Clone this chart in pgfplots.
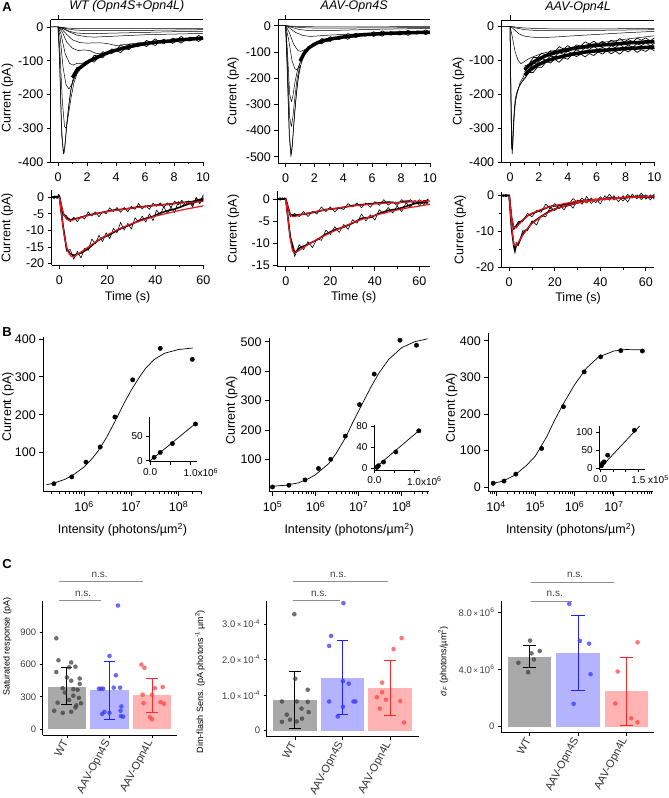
\documentclass[border=0pt]{standalone}
\usepackage{pgfplots}
\pgfplotsset{compat=1.18}
\usepackage{fontspec}
\setmainfont{Liberation Sans}
\definecolor{wtbar}{HTML}{A9A9A9}
\definecolor{wtpt}{HTML}{404040}
\definecolor{sbar}{HTML}{B3B3FF}
\definecolor{spt}{HTML}{3838FF}
\definecolor{serr}{HTML}{1F1FFF}
\definecolor{lbar}{HTML}{FFB3B3}
\definecolor{lpt}{HTML}{FF4545}
\definecolor{lerr}{HTML}{FF2828}
\definecolor{sig}{HTML}{8C8C8C}
\definecolor{fitred}{HTML}{E8141C}
\newcommand{\fs}[1]{\fontsize{#1}{#1}\selectfont}
\pgfplotsset{
  igor/.style={scale only axis, anchor=south west, clip=false,
    axis x line*=bottom, axis y line*=left,
    axis line style={line width=0.9pt},
    tick align=outside, tick style={line width=0.8pt, black},
    major tick length=4pt, minor tick length=2.5pt,
    ticklabel style={font=\fs{12.5}},
    label style={font=\fs{12.5}},
    /pgf/number format/assume math mode=true},
  igorlin/.style={igor, x tick label style={yshift=-3pt}},
  ggc/.style={scale only axis, anchor=south west, clip=false,
    axis x line*=bottom, axis y line*=left,
    axis line style={line width=0.9pt},
    tick align=outside, tick style={line width=0.6pt, black},
    major tick length=3pt,
    ticklabel style={font=\fs{9.5}, text=black!75},
    xtick={0,1,2}, xticklabels={WT,AAV-Opn4S,AAV-Opn4L},
    x tick label style={rotate=62, anchor=east, font=\fs{11}, text=black!80},
    label style={font=\fs{9}},
    /pgf/number format/assume math mode=true},
  trace/.style={black, line width=0.5pt, line join=round},
  ntrace/.style={black, line width=0.6pt, line join=round},
  mtrace/.style={black, line width=1.6pt, line join=round},
  band/.style={black, line width=3.5pt, line join=round},
  fit/.style={fitred, line width=1.2pt},
  stim/.style={black, line width=0.8pt},
  bdot/.style={only marks, mark=*, mark size=2.2pt, black},
  ins/.style={scale only axis, anchor=south west, clip=false,
    axis x line*=bottom, axis y line*=left,
    axis line style={line width=0.8pt},
    tick align=outside, tick style={line width=0.7pt, black},
    major tick length=3pt, ticklabel style={font=\fs{10}},
    /pgf/number format/assume math mode=true},
  ylab/.style={ylabel style={at={(axis description cs:#1,0.5)}, anchor=center}},
  ylabb/.style 2 args={ylabel style={at={(axis description cs:#1,#2)}, anchor=center}},
  xlab/.style={xlabel style={at={(axis description cs:0.5,#1)}, anchor=center}},
}
\begin{document}
\begin{tikzpicture}
\useasboundingbox (0,0) rectangle (669pt,798pt);
% ================= A1 =================
\begin{axis}[igorlin, at={(50.75pt,636pt)}, width=152.25pt, height=142.1pt,
  xmin=-0.5, xmax=10, ymin=-400, ymax=21,
  xtick={0,2,...,10}, minor xtick={1,3,5,7,9}, ytick={-400,-300,...,0},
  ylabel={Current (pA)}, ylabb={-0.284}{0.45},
  title={WT (Opn4S+Opn4L)}, title style={font=\fs{12.5}\itshape, yshift=-2pt}]
\addplot[stim] coordinates {(-0.5,21)(10,21)};
\addplot[stim] coordinates {(0,21)(0,36)};
\addplot[trace] coordinates {(-0.5,0)(-0.2,1)(0,0)(0.3,-1)(0.6,-3)(1,-4)(2,-5)(3,-5)(4,-5)(6,-5)(8,-4)(10,-4)};
\addplot[trace] coordinates {(-0.5,0)(0,0)(0.3,-2)(0.7,-6)(1.2,-9)(2,-11)(3,-11)(4,-11)(6,-10)(8,-9)(10,-8)};
\addplot[trace] coordinates {(0,0)(0.4,-5)(0.8,-13)(1.3,-18)(2,-20)(3,-19)(4,-18)(6,-16)(8,-14)(10,-13)};
\addplot[trace] coordinates {(0,0)(0.4,-6)(0.8,-15)(1.3,-24)(2,-29)(2.5,-30)(3,-29)(4,-27)(5,-25)(6,-23)(8,-21)(10,-19)};
\addplot[trace] coordinates {(0,0)(0.3,-8)(0.6,-22)(1,-38)(1.5,-46)(2,-48)(2.5,-47)(3,-47)(3.5,-50)(4,-55)(5,-50)(6,-45)(8,-38)(10,-32)};
\addplot[trace] coordinates {(0,0)(0.3,-15)(0.6,-45)(1,-63)(1.4,-70)(1.8,-68)(2.2,-70)(2.6,-78)(3,-80)(4,-67)(6,-48)(8,-40)(10,-33)};
\addplot[trace] coordinates {(0,0)(0.2,-20)(0.5,-80)(0.8,-108)(1.05,-113)(1.3,-108)(1.6,-108)(2,-104)};
\addplot[trace] coordinates {(0,0)(0.15,-30)(0.35,-120)(0.55,-170)(0.75,-184)(0.95,-170)(1.2,-145)(1.5,-128)};
\addplot[trace] coordinates {(0,0)(0.12,-60)(0.3,-220)(0.45,-295)(0.55,-300)(0.7,-265)(0.9,-210)(1.1,-165)(1.3,-140)};
\addplot[trace] coordinates {(0,0)(0.1,-80)(0.25,-300)(0.38,-376)(0.45,-370)(0.55,-320)(0.7,-250)(0.85,-195)(1.0,-160)(1.2,-140)};
\addplot[trace] coordinates {(0,0)(0.1,-90)(0.25,-320)(0.36,-370)(0.45,-360)(0.6,-290)(0.75,-230)(0.9,-185)(1.05,-155)};
\addplot[band] coordinates {(1.0,-150)(1.3,-128)(1.6,-118)(1.9,-108)(2.2,-100)(2.5,-94)(2.8,-88)(3.1,-82)(3.4,-77)(3.7,-72)(4.0,-69)(4.3,-65)(4.6,-62)(4.9,-59)(5.2,-56)(5.5,-53)(5.8,-51)(6.1,-49)(6.4,-47)(6.7,-45)(7.0,-44)(7.3,-43)(7.6,-42)(7.9,-41)(8.2,-39)(8.5,-38)(8.8,-37)(9.1,-36)(9.4,-35)(9.7,-34)(10,-33)};
\addplot[trace, line width=0.7pt] coordinates {(1.0,-151)(1.3,-136)(1.6,-116)(1.9,-114)(2.2,-99)(2.5,-104)(2.8,-90)(3.1,-91)(3.4,-74)(3.7,-79)(4.0,-69)(4.3,-76)(4.6,-65)(4.9,-67)(5.2,-54)(5.5,-59)(5.8,-50)(6.1,-58)(6.4,-48)(6.7,-55)(7.0,-44)(7.3,-50)(7.6,-39)(7.9,-49)(8.2,-41)(8.5,-48)(8.8,-36)(9.1,-42)(9.4,-35)(9.7,-43)(10,-34)};
\addplot[trace, line width=0.7pt] coordinates {(1.0,-149)(1.3,-120)(1.6,-120)(1.9,-102)(2.2,-101)(2.5,-84)(2.8,-86)(3.1,-73)(3.4,-80)(3.7,-65)(4.0,-69)(4.3,-54)(4.6,-59)(4.9,-51)(5.2,-58)(5.5,-47)(5.8,-52)(6.1,-40)(6.4,-46)(6.7,-35)(7.0,-44)(7.3,-36)(7.6,-45)(7.9,-33)(8.2,-37)(8.5,-28)(8.8,-38)(9.1,-30)(9.4,-35)(9.7,-25)(10,-32)};
\end{axis}
% ================= A2 =================
\begin{axis}[igorlin, at={(278.4pt,634.7pt)}, width=151.5pt, height=143.6pt,
  xmin=-0.5, xmax=10, ymin=-525, ymax=23,
  xtick={0,2,...,10}, minor xtick={1,3,5,7,9}, ytick={-500,-400,...,0},
  ylabel={Current (pA)}, ylabb={-0.298}{0.5},
  title={AAV-Opn4S}, title style={font=\fs{12.5}\itshape, yshift=-2pt}]
\addplot[stim] coordinates {(-0.5,23)(10,23)};
\addplot[stim] coordinates {(0,23)(0,42)};
\addplot[trace] coordinates {(-0.5,0)(0,0)(0.5,-2)(1,-3)(2,-4)(4,-4)(7,-4)(10,-3)};
\addplot[trace] coordinates {(-0.5,0)(0,0)(0.4,-3)(1,-7)(2,-9)(4,-9)(7,-8)(10,-7)};
\addplot[trace] coordinates {(0,0)(0.4,-6)(0.9,-14)(1.5,-18)(2.5,-19)(4,-17)(6,-14)(8,-12)(10,-10)};
\addplot[trace] coordinates {(0,0)(0.3,-10)(0.7,-26)(1.2,-37)(1.7,-41)(2.2,-39)(3,-36)(4,-33)(5,-31)(6,-28)(8,-24)(10,-21)};
\addplot[trace] coordinates {(0,0)(0.25,-25)(0.55,-70)(0.85,-95)(1.05,-98)(1.3,-92)(1.6,-84)(2,-74)};
\addplot[trace] coordinates {(0,0)(0.2,-50)(0.45,-135)(0.65,-165)(0.8,-168)(0.95,-150)(1.1,-128)};
\addplot[trace] coordinates {(0,0)(0.12,-90)(0.28,-260)(0.4,-290)(0.5,-270)(0.65,-215)(0.8,-175)(1.0,-140)};
\addplot[trace] coordinates {(0,0)(0.12,-130)(0.28,-350)(0.4,-385)(0.5,-350)(0.65,-270)(0.8,-200)(1.0,-150)};
\addplot[trace] coordinates {(0,0)(0.1,-150)(0.25,-420)(0.37,-500)(0.45,-470)(0.55,-390)(0.7,-290)(0.85,-210)(1.0,-160)(1.2,-125)};
\addplot[trace] coordinates {(0,0)(0.1,-140)(0.26,-410)(0.38,-490)(0.47,-450)(0.6,-350)(0.75,-255)(0.9,-190)(1.05,-150)};
\addplot[band] coordinates {(1.0,-135)(1.3,-104)(1.6,-85)(1.9,-74)(2.2,-65)(2.5,-59)(2.8,-55)(3.1,-51)(3.4,-48)(3.7,-46)(4.0,-43)(4.3,-41)(4.6,-39)(4.9,-37)(5.2,-35)(5.5,-34)(5.8,-33)(6.1,-32)(6.4,-31)(6.7,-30)(7.0,-29)(7.3,-29)(7.6,-28)(7.9,-28)(8.2,-27)(8.5,-27)(8.8,-26)(9.1,-26)(9.4,-25)(9.7,-25)(10,-25)};
\addplot[trace, line width=0.7pt] coordinates {(1.0,-136)(1.3,-112)(1.6,-83)(1.9,-80)(2.2,-64)(2.5,-69)(2.8,-57)(3.1,-60)(3.4,-45)(3.7,-53)(4.0,-43)(4.3,-52)(4.6,-42)(4.9,-45)(5.2,-33)(5.5,-40)(5.8,-32)(6.1,-41)(6.4,-32)(6.7,-40)(7.0,-29)(7.3,-36)(7.6,-25)(7.9,-36)(8.2,-29)(8.5,-37)(8.8,-25)(9.1,-32)(9.4,-25)(9.7,-34)(10,-26)};
\addplot[trace, line width=0.7pt] coordinates {(1.0,-134)(1.3,-96)(1.6,-87)(1.9,-68)(2.2,-66)(2.5,-49)(2.8,-53)(3.1,-42)(3.4,-51)(3.7,-39)(4.0,-43)(4.3,-30)(4.6,-36)(4.9,-29)(5.2,-37)(5.5,-28)(5.8,-34)(6.1,-23)(6.4,-30)(6.7,-20)(7.0,-29)(7.3,-22)(7.6,-31)(7.9,-20)(8.2,-25)(8.5,-17)(8.8,-27)(9.1,-20)(9.4,-25)(9.7,-16)(10,-24)};
\end{axis}
% ================= A3 =================
\begin{axis}[igorlin, at={(501.7pt,635.7pt)}, width=152.7pt, height=142pt,
  xmin=-0.58, xmax=10, ymin=-400, ymax=17.6,
  xtick={0,2,...,10}, minor xtick={1,3,5,7,9}, ytick={-400,-300,...,0},
  ylabel={Current (pA)}, ylabb={-0.284}{0.5},
  title={AAV-Opn4L}, title style={font=\fs{12.5}\itshape, yshift=-2pt}]
\addplot[stim] coordinates {(-0.58,17.6)(10,17.6)};
\addplot[stim] coordinates {(0,17.6)(0,33)};
\addplot[trace] coordinates {(-0.58,0)(0,0)(0.5,-3)(1,-5)(2,-7)(4,-8)(6,-8)(8,-7)(10,-6)};
\addplot[trace] coordinates {(-0.58,0)(0,0)(0.4,-5)(1,-10)(2,-13)(4,-13)(6,-12)(8,-11)(10,-10)};
\addplot[trace] coordinates {(0,0)(0.3,-10)(0.6,-22)(1,-29)(1.5,-32)(2,-33)(3,-32)(4,-29)(6,-24)(8,-19)(10,-15)};
\addplot[trace] coordinates {(0,0)(0.15,-30)(0.35,-75)(0.55,-100)(0.75,-110)(0.95,-105)(1.3,-95)(1.7,-88)(2.2,-80)(3,-72)(4,-64)(5,-57)(6,-50)(7,-44)(8,-38)(9,-33)(10,-28)};
\addplot[trace] coordinates {(0,0)(0.04,-150)(0.1,-330)(0.15,-375)(0.2,-340)(0.28,-270)(0.38,-220)(0.5,-195)(0.7,-165)(0.9,-150)(1.0,-140)};
\addplot[trace] coordinates {(0,0)(0.05,-180)(0.1,-350)(0.14,-365)(0.2,-310)(0.3,-240)(0.45,-200)(0.6,-180)(0.8,-165)(1.0,-150)};
\addplot[trace] coordinates {(0,0)(0.05,-160)(0.12,-360)(0.18,-350)(0.25,-280)(0.35,-215)(0.5,-190)(0.7,-170)(1.0,-155)};
\addplot[band] coordinates {(1.0,-128)(1.3,-116)(1.6,-106)(1.9,-98)(2.2,-92)(2.5,-86)(2.8,-82)(3.1,-78)(3.4,-75)(3.7,-72)(4.0,-69)(4.3,-66)(4.6,-64)(4.9,-62)(5.2,-60)(5.5,-58)(5.8,-57)(6.1,-56)(6.4,-55)(6.7,-54)(7.0,-53)(7.3,-52)(7.6,-51)(7.9,-50)(8.2,-49)(8.5,-48)(8.8,-48)(9.1,-47)(9.4,-46)(9.7,-46)(10,-45)};
\addplot[band] coordinates {(1.0,-144)(1.3,-132)(1.6,-122)(1.9,-114)(2.2,-108)(2.5,-102)(2.8,-98)(3.1,-94)(3.4,-91)(3.7,-88)(4.0,-85)(4.3,-82)(4.6,-80)(4.9,-78)(5.2,-76)(5.5,-74)(5.8,-73)(6.1,-72)(6.4,-71)(6.7,-70)(7.0,-69)(7.3,-68)(7.6,-67)(7.9,-66)(8.2,-65)(8.5,-64)(8.8,-64)(9.1,-63)(9.4,-62)(9.7,-62)(10,-61)};
\addplot[trace, line width=0.7pt] coordinates {(1.0,-117)(1.3,-112)(1.6,-92)(1.9,-92)(2.2,-79)(2.5,-84)(2.8,-72)(3.1,-75)(3.4,-60)(3.7,-67)(4.0,-57)(4.3,-65)(4.6,-55)(4.9,-58)(5.2,-46)(5.5,-52)(5.8,-44)(6.1,-53)(6.4,-44)(6.7,-52)(7.0,-41)(7.3,-47)(7.6,-36)(7.9,-46)(8.2,-39)(8.5,-46)(8.8,-35)(9.1,-41)(9.4,-34)(9.7,-43)(10,-34)};
\addplot[trace, line width=0.7pt] coordinates {(1.0,-155)(1.3,-136)(1.6,-136)(1.9,-120)(2.2,-121)(2.5,-104)(2.8,-108)(3.1,-97)(3.4,-106)(3.7,-93)(4.0,-97)(4.3,-83)(4.6,-89)(4.9,-82)(5.2,-90)(5.5,-80)(5.8,-86)(6.1,-75)(6.4,-82)(6.7,-72)(7.0,-81)(7.3,-73)(7.6,-82)(7.9,-70)(8.2,-75)(8.5,-66)(8.8,-77)(9.1,-69)(9.4,-74)(9.7,-65)(10,-72)};
\addplot[trace, line width=0.7pt] coordinates {(1.0,-133)(1.3,-129)(1.6,-110)(1.9,-108)(2.2,-95)(2.5,-100)(2.8,-88)(3.1,-90)(3.4,-76)(3.7,-83)(4.0,-73)(4.3,-80)(4.6,-69)(4.9,-75)(5.2,-63)(5.5,-68)(5.8,-59)(6.1,-68)(6.4,-62)(6.7,-69)(7.0,-57)(7.3,-63)(7.6,-52)(7.9,-63)(8.2,-55)(8.5,-62)(8.8,-51)(9.1,-57)(9.4,-48)(9.7,-58)(10,-50)};
\end{axis}
% ================= A4 =================
\begin{axis}[igorlin, at={(51.7pt,533pt)}, width=151.7pt, height=74.5pt,
  xmin=-3.2, xmax=60, ymin=-20.4, ymax=2,
  xtick={0,20,40,60}, minor xtick={10,30,50}, ytick={-20,-15,...,0},
  ylabel={Current (pA)}, ylab={-0.293}, xlabel={Time (s)}, xlab={-0.434}]
\addplot[mtrace] coordinates {(-3,0)(0,0.2)(1.5,-5)(3,-6.2)(4.5,-6.8)(6,-6.6)(9,-6.1)(12,-5.4)(15,-5.0)(18,-4.6)(21,-4.1)(24,-3.8)(27,-3.6)(30,-3.3)(33,-2.9)(36,-2.8)(39,-2.5)(42,-2.3)(45,-2.2)(48,-1.9)(51,-1.6)(54,-1.5)(57,-1.1)(60,-0.4)};
\addplot[mtrace] coordinates {(-3,0)(0,0.2)(1.5,-8.5)(3,-15.5)(4.5,-17)(6,-17.5)(9,-16.8)(12,-15.5)(15,-13.6)(18,-12.2)(21,-11.3)(24,-10)(27,-9)(30,-8.2)(33,-7.1)(36,-6.4)(39,-5.8)(42,-4.8)(45,-4.1)(48,-3.6)(51,-2.8)(54,-2.0)(57,-1.4)(60,-0.8)};
\addplot[ntrace] coordinates {(-3,0.2)(-2.2,-0.5)(-1.5,0.4)(-0.8,-0.3)(-0.3,0.9)(0,0.3)(1.5,-5.0)(3,-5.6)(4.5,-7.4)(6,-6.0)(7.5,-7.4)(9,-5.8)(10.5,-6.6)(12,-4.4)(13.5,-5.7)(15,-4.4)(16.5,-5.9)(18,-4.4)(19.5,-5.0)(21,-3.2)(22.5,-4.4)(24,-3.1)(25.5,-4.6)(27,-3.1)(28.5,-4.4)(30,-2.7)(31.5,-3.7)(33,-1.9)(34.5,-3.6)(36,-2.5)(37.5,-3.7)(39,-1.8)(40.5,-2.8)(42,-1.7)(43.5,-3.1)(45,-1.7)(46.5,-3.1)(48,-1.2)(49.5,-2.3)(51,-0.9)(52.5,-2.3)(54,-1.2)(55.5,-2.4)(57,-0.4)(58.5,-1.6)(60,0.8)};
\addplot[ntrace] coordinates {(-3,0)(-2,0.4)(-1,-0.4)(0,0.6)(1.5,-8.5)(3,-16.3)(4.5,-15.7)(6,-18.7)(7.5,-16.3)(9,-18.3)(10.5,-15.4)(12,-16.0)(13.5,-12.6)(15,-14.0)(16.5,-11.5)(18,-13.4)(19.5,-10.7)(21,-12.5)(22.5,-9.4)(24,-10.7)(25.5,-7.6)(27,-9.9)(28.5,-7.9)(30,-9.6)(31.5,-6.2)(33,-7.5)(34.5,-5.7)(36,-7.5)(37.5,-5.0)(39,-7.1)(40.5,-3.9)(42,-5.3)(43.5,-2.9)(45,-4.9)(46.5,-3.0)(48,-4.7)(49.5,-1.3)(51,-3.0)(52.5,-1.5)(54,-1.1)(55.5,-3.0)(57,0.0)(58.5,-2.0)(60,0.2)};
\addplot[fit] coordinates {(0,0)(1,-3)(2,-5.5)(3,-6.6)(4,-7)(5,-7)(6,-6.8)(8,-6.3)(10,-5.9)(15,-5)(20,-4.3)(25,-3.8)(30,-3.3)(40,-2.5)(50,-1.8)(60,-1.3)};
\addplot[fit] coordinates {(0,0)(1,-6)(2,-11.5)(3,-15)(4,-17)(5,-17.8)(6,-17.9)(8,-17)(10,-16)(15,-13.5)(20,-11.3)(25,-9.5)(30,-8)(40,-5.7)(50,-4)(60,-2.6)};
\end{axis}
% ================= A5 =================
\begin{axis}[igorlin, at={(277.3pt,531.3pt)}, width=152.8pt, height=75.2pt,
  xmin=-3.8, xmax=64.8, ymin=-15.4, ymax=1.7,
  xtick={0,20,40,60}, minor xtick={10,30,50}, ytick={-15,-10,-5,0},
  ylabel={Current (pA)}, ylab={-0.288}, xlabel={Time (s)}, xlab={-0.407}]
\addplot[mtrace] coordinates {(-3.5,0)(0,0)(2,-3.6)(4,-3.7)(6,-3.6)(10,-3.3)(14,-2.9)(18,-2.4)(22,-2.2)(26,-1.9)(30,-1.5)(34,-1.3)(38,-1.1)(42,-0.9)(46,-0.7)(50,-0.9)(54,-0.5)(58,-0.6)(62,-0.6)(64,-0.2)};
\addplot[mtrace] coordinates {(-3.5,0)(0,0)(2,-8.6)(4,-12.3)(6,-11.2)(10,-10.3)(14,-9.3)(18,-8.0)(22,-7)(26,-6.4)(30,-5.5)(34,-4.4)(38,-4.2)(42,-3.3)(46,-2.6)(50,-2.3)(54,-1.7)(58,-1.0)(62,-0.8)(64,-0.8)};
\addplot[ntrace] coordinates {(-3.5,0.2)(-2.5,-0.3)(-1.5,0.3)(-0.5,-0.2)(0,0.2)(2,-4.0)(4,-3.3)(6,-4.0)(8,-2.85)(10,-4.0)(12,-2.8)(14,-3.4)(16,-1.8)(18,-2.85)(20,-1.8)(22,-2.95)(24,-1.9)(26,-2.4)(28,-1.05)(30,-1.8)(32,-0.9)(34,-2.0)(36,-0.9)(38,-1.9)(40,-0.6)(42,-1.45)(44,-0.15)(46,-1.4)(48,-0.65)(50,-1.5)(52,-0.15)(54,-0.9)(56,-0.15)(58,-1.2)(60,-0.15)(62,-1.3)(64,0.05)};
\addplot[ntrace] coordinates {(-3.5,0)(-2.5,0.3)(-1.5,-0.2)(-0.5,0.3)(0,0)(2,-8.6)(4,-13.1)(6,-10.4)(8,-11.5)(10,-9.7)(12,-11.1)(14,-9.05)(16,-9.4)(18,-7.1)(20,-8.1)(22,-6.3)(24,-7.6)(26,-5.8)(28,-6.9)(30,-4.7)(32,-5.5)(34,-3.4)(36,-5.0)(38,-3.6)(40,-4.8)(42,-2.45)(44,-3.4)(46,-1.95)(48,-3.2)(50,-1.6)(52,-2.9)(54,-0.9)(56,-1.9)(58,-0.35)(60,-1.5)(62,-0.25)(64,-1.35)};
\addplot[fit] coordinates {(0,0)(1,-2)(2,-3.5)(3,-4)(4,-4)(6,-3.7)(10,-3.2)(15,-2.7)(20,-2.3)(30,-1.6)(40,-1.1)(50,-0.8)(60,-0.55)(64.8,-0.45)};
\addplot[fit] coordinates {(0,0)(1,-4.5)(2,-9)(3,-11.8)(4,-12.2)(5,-12)(8,-11)(12,-9.8)(16,-8.7)(20,-7.7)(25,-6.5)(30,-5.4)(35,-4.5)(40,-3.7)(45,-3.1)(50,-2.5)(55,-2.0)(60,-1.6)(64.8,-1.2)};
\end{axis}
% ================= A6 =================
\begin{axis}[igorlin, at={(501.7pt,530.7pt)}, width=152.6pt, height=75.2pt,
  xmin=-3.3, xmax=63.7, ymin=-20, ymax=1.0,
  xtick={0,20,40,60}, minor xtick={10,30,50}, ytick={-20,-10,0}, minor ytick={-15,-5},
  ylabel={Current (pA)}, ylab={-0.273}, xlabel={Time (s)}, xlab={-0.41}]
\addplot[mtrace] coordinates {(-3.3,0)(0,0.1)(1,-6)(2,-9.2)(4,-7.8)(6,-6.8)(8,-5.6)(10,-5.0)(14,-4.0)(18,-3.0)(22,-2.7)(26,-2.2)(30,-1.6)(34,-1.3)(38,-1.2)(42,-0.8)(46,-0.6)(50,-0.6)(54,-0.3)(58,-0.4)(62,-0.3)(63.7,0)};
\addplot[mtrace] coordinates {(-3.3,0)(0,0)(1,-9)(2,-14)(2.5,-15.5)(3,-14)(4,-13.5)(6,-10.5)(8,-9.3)(10,-7.6)(14,-5.8)(18,-4.2)(22,-3.3)(26,-2.7)(30,-2.0)(34,-1.3)(38,-1.2)(42,-0.9)(46,-0.6)(50,-0.6)(54,-0.4)(58,-0.1)(62,-0.3)(63.7,-0.5)};
\addplot[ntrace] coordinates {(-3.3,0.3)(-2.5,-0.2)(-1.5,0.4)(-0.5,-0.1)(0,0.3)(1,-6)(2,-9.5)(4,-7.2)(6,-7.2)(8,-4.9)(10,-5.9)(12,-4.05)(14,-4.65)(16,-2.35)(18,-3.6)(20,-2.2)(22,-3.6)(24,-2.05)(26,-2.6)(28,-0.8)(30,-1.9)(32,-0.65)(34,-2.1)(36,-0.65)(38,-2.0)(40,-0.3)(42,-1.3)(44,0.4)(46,-1.25)(48,-0.25)(50,-1.5)(52,0.35)(54,-0.7)(56,0.25)(58,-1.1)(60,0.25)(62,-1.2)(63.7,0.5)};
\addplot[ntrace] coordinates {(-3.3,0)(-2.5,0.3)(-1.5,-0.3)(-0.5,0.2)(0,0)(1,-9)(2,-13.1)(2.5,-16.2)(3,-13)(4,-14)(6,-9.6)(8,-9.8)(10,-7.0)(12,-8.2)(14,-5.6)(16,-5.9)(18,-3.2)(20,-4.2)(22,-2.4)(24,-4.0)(26,-2.0)(28,-3.5)(30,-1.2)(32,-2.4)(34,-0.2)(36,-2.2)(38,-0.85)(40,-2.3)(42,0.0)(44,-1.3)(46,0.0)(48,-1.7)(50,0.0)(52,-1.8)(54,0.45)(56,-0.9)(58,0.75)(60,-1.0)(62,0.25)(63.7,-1.0)};
\addplot[fit] coordinates {(0,0)(1,-6)(2,-8.8)(3,-9)(4,-8.2)(6,-6.8)(8,-5.7)(10,-4.9)(15,-3.6)(20,-2.8)(25,-2.1)(30,-1.6)(40,-0.9)(50,-0.5)(60,-0.25)(63.7,-0.2)};
\addplot[fit] coordinates {(0,0)(1,-8)(2,-13.5)(3,-14)(4,-13)(6,-11)(8,-9.2)(10,-7.8)(15,-5.4)(20,-3.8)(25,-2.8)(30,-2)(40,-1.1)(50,-0.6)(60,-0.3)(63.7,-0.2)};
\end{axis}
% ================= B1 =================
\begin{axis}[igor, at={(43.3pt,306.3pt)}, width=158.4pt, height=154.3pt,
  xmode=log, xmin=1.374e5, xmax=3.09e8, ymin=-3, ymax=404,
  xtick={1e6,1e7,1e8}, xticklabels={10\textsuperscript{6},10\textsuperscript{7},10\textsuperscript{8}},
  minor xtick={2e5,3e5,4e5,5e5,6e5,7e5,8e5,9e5,2e6,3e6,4e6,5e6,6e6,7e6,8e6,9e6,2e7,3e7,4e7,5e7,6e7,7e7,8e7,9e7,2e8,3e8},
  x tick label style={yshift=-2pt},
  ytick={100,200,300,400},
  ylabel={Current (pA)}, ylabb={-0.223}{0.55},
  xlabel={Intensity (photons/µm\textsuperscript{2})}, xlab={-0.248}]
\addplot[black, line width=0.7pt] coordinates {(1.6e5,15)(2.5e5,21)(4e5,30)(6e5,42)(1e6,62)(1.5e6,85)(2e6,105)(3e6,140)(4e6,170)(5e6,193)(7e6,230)(1e7,265)(1.5e7,300)(2e7,322)(3e7,345)(5e7,362)(1e8,372)(2e8,376)};
\addplot[bdot] coordinates {(2.3e5,18)(5.5e5,36)(1.1e6,75)(2.2e6,115)(4.5e6,194)(1.07e7,292)(4.1e7,375)(1.95e8,346)};
\end{axis}
\begin{axis}[ins, at={(149.3pt,336.3pt)}, width=47.4pt, height=45pt,
  xmin=-0.02, xmax=1.15, ymin=-2, ymax=90,
  xtick={0,1}, xticklabels={0.0,{1.0\rlap{x10\textsuperscript{6}}}}, minor xtick={0.5},
  ytick={0,50}]
\addplot[black, line width=0.7pt] coordinates {(0,0)(1.15,78)};
\addplot[bdot] coordinates {(0.1,7)(0.25,17)(0.55,35)(1.12,75)};
\end{axis}
% ================= B2 =================
\begin{axis}[igor, at={(269pt,306.3pt)}, width=160.3pt, height=153.2pt,
  xmode=log, xmin=8.3e4, xmax=4.37e8, ymin=-10, ymax=511,
  xtick={1e5,1e6,1e7,1e8}, xticklabels={10\textsuperscript{5},10\textsuperscript{6},10\textsuperscript{7},10\textsuperscript{8}},
  minor xtick={2e5,3e5,4e5,5e5,6e5,7e5,8e5,9e5,2e6,3e6,4e6,5e6,6e6,7e6,8e6,9e6,2e7,3e7,4e7,5e7,6e7,7e7,8e7,9e7,2e8,3e8,4e8},
  x tick label style={yshift=-2pt},
  ytick={100,200,300,400,500},
  ylabel={Current (pA)}, ylabb={-0.233}{0.53},
  xlabel={Intensity (photons/µm\textsuperscript{2})}, xlab={-0.25}]
\addplot[black, line width=0.7pt] coordinates {(9e4,8)(2e5,12)(4e5,20)(7e5,35)(1e6,48)(2e6,85)(3e6,120)(5e6,175)(7e6,220)(1e7,265)(1.5e7,315)(2e7,350)(3e7,395)(5e7,440)(1e8,480)(2e8,500)(4e8,510)};
\addplot[bdot] coordinates {(1e5,6)(2.4e5,12)(5.7e5,30)(1.17e6,69)(2.25e6,100)(4.9e6,179)(1.05e7,286)(2.3e7,390)(9.1e7,505)(2.2e8,488)};
\end{axis}
\begin{axis}[ins, at={(374pt,328pt)}, width=46pt, height=45pt,
  xmin=-0.01, xmax=1.15, ymin=-3, ymax=82,
  xtick={0,1}, xticklabels={0.0,{1.0\rlap{x10\textsuperscript{6}}}}, minor xtick={0.5},
  ytick={0,40,80}]
\addplot[black, line width=0.7pt] coordinates {(0,0)(1.15,73)};
\addplot[bdot] coordinates {(0.06,2)(0.1,5)(0.23,12)(0.54,31)(1.12,71)};
\end{axis}
% ================= B3 =================
\begin{axis}[igor, at={(488.3pt,306.3pt)}, width=164.7pt, height=158.3pt,
  xmode=log, xmin=6.37e3, xmax=9.9e7, ymin=-12, ymax=420,
  xtick={1e4,1e5,1e6,1e7,1e8}, xticklabels={10\textsuperscript{4},10\textsuperscript{5},10\textsuperscript{6},10\textsuperscript{7},10\textsuperscript{8}},
  minor xtick={7e3,8e3,9e3,2e4,3e4,4e4,5e4,6e4,7e4,8e4,9e4,2e5,3e5,4e5,5e5,6e5,7e5,8e5,9e5,2e6,3e6,4e6,5e6,6e6,7e6,8e6,9e6,2e7,3e7,4e7,5e7,6e7,7e7,8e7,9e7},
  x tick label style={yshift=-2pt},
  ytick={0,100,200,300,400},
  ylabel={Current (pA)}, ylabb={-0.222}{0.53},
  xlabel={Intensity (photons/µm\textsuperscript{2})}, xlab={-0.242}]
\addplot[black, line width=0.7pt] coordinates {(8e3,10)(1.5e4,17)(3e4,33)(6e4,60)(1e5,85)(2e5,140)(3e5,180)(5e5,225)(1e6,280)(2e6,325)(4e6,355)(1e7,372)(2e7,376)(5e7,375)};
\addplot[bdot] coordinates {(8.5e3,11)(1.6e4,17)(3.2e4,36)(1.45e5,106)(5.2e5,220)(1.75e6,315)(4.6e6,356)(1.5e7,373)(5.3e7,372)};
\end{axis}
\begin{axis}[ins, at={(599.3pt,329pt)}, width=45.7pt, height=43pt,
  xmin=-0.04, xmax=1.76, ymin=-3, ymax=118,
  xtick={0,1.5}, xticklabels={0.0,{1.5\rlap{ x10\textsuperscript{5}}}}, minor xtick={0.5,1.0},
  ytick={0,50,100}]
\addplot[black, line width=0.7pt] coordinates {(0,0)(1.55,118)};
\addplot[bdot] coordinates {(0.04,6)(0.09,13)(0.15,17)(0.29,36)(1.34,106)};
\end{axis}
% ================= C1 =================
\begin{axis}[ggc, at={(42.7pt,63pt)}, width=134pt, height=134pt,
  xmin=-0.57, xmax=2.58, ymin=-56, ymax=1192,
  ytick={0,300,600,900},
  ylabel={Saturated response (pA)}, ylabb={-0.264}{0.66}]
\addplot[ybar, bar width=0.9, bar shift=0pt, fill=wtbar, draw=none] coordinates {(0,395)};
\addplot[ybar, bar width=0.9, bar shift=0pt, fill=sbar, draw=none] coordinates {(1,360)};
\addplot[ybar, bar width=0.9, bar shift=0pt, fill=lbar, draw=none] coordinates {(2,315)};
\addplot[only marks, mark=*, mark size=2.3pt, wtpt, mark options={draw opacity=0, fill opacity=0.75}] coordinates {(-0.25,845)(-0.2,640)(0.1,620)(0.2,580)(0.05,575)(-0.25,530)(0,480)(0.3,470)(0.1,450)(0.3,420)(-0.1,380)(0.15,370)(0.25,365)(-0.05,340)(0.15,310)(0.28,290)(0.05,270)(-0.22,245)(0.33,240)(0.2,200)(-0.3,170)(0.1,160)(-0.1,150)(0.22,220)};
\addplot[only marks, mark=*, mark size=2.3pt, spt, mark options={draw opacity=0, fill opacity=0.75}] coordinates {(1.2,1150)(1.0,680)(1.15,500)(0.75,375)(0.8,375)(0.85,375)(1.1,385)(1.25,385)(1.28,210)(1.26,170)(0.88,160)(0.83,140)(1.0,150)(1.27,120)(1.32,115)};
\addplot[only marks, mark=*, mark size=2.3pt, lpt, mark options={draw opacity=0, fill opacity=0.75}] coordinates {(1.75,600)(1.82,570)(2.25,390)(2.07,380)(1.78,320)(2.0,320)(1.8,240)(2.2,250)(2.28,235)(1.95,110)(2.0,90)};
\addplot[black, line width=0.9pt] coordinates {(0,225)(0,570)};
\addplot[black, line width=0.9pt] coordinates {(-0.13,570)(0.13,570)};
\addplot[black, line width=0.9pt] coordinates {(-0.13,225)(0.13,225)};
\addplot[serr, line width=0.9pt] coordinates {(1,85)(1,630)};
\addplot[serr, line width=0.9pt] coordinates {(0.87,630)(1.13,630)};
\addplot[serr, line width=0.9pt] coordinates {(0.87,85)(1.13,85)};
\addplot[lerr, line width=0.9pt] coordinates {(2,150)(2,475)};
\addplot[lerr, line width=0.9pt] coordinates {(1.87,475)(2.13,475)};
\addplot[lerr, line width=0.9pt] coordinates {(1.87,150)(2.13,150)};
\addplot[sig, line width=0.9pt] coordinates {(-0.19,1371)(1.79,1371)};
\addplot[sig, line width=0.9pt] coordinates {(-0.19,1195)(0.8,1195)};
\node[font=\fs{10}, text=black!75] at (axis cs:0.77,1434) {n.s.};
\node[font=\fs{10}, text=black!75] at (axis cs:0.38,1257) {n.s.};
\end{axis}
% ================= C2 =================
\begin{axis}[ggc, at={(266.7pt,61.3pt)}, width=152.6pt, height=135.7pt,
  xmin=-0.59, xmax=2.61, ymin=-0.168, ymax=3.64,
  ytick={0,1,2,3}, yticklabels={0,{1.0\,{\fs{8}×}\,10\textsuperscript{-4}},{2.0\,{\fs{8}×}\,10\textsuperscript{-4}},{3.0\,{\fs{8}×}\,10\textsuperscript{-4}}},
  ylabel={Dim-flash Sens. (pA photons\textsuperscript{-1} µm\textsuperscript{2})}, ylabb={-0.437}{0.405}]
\addplot[ybar, bar width=0.92, bar shift=0pt, fill=wtbar, draw=none] coordinates {(0,0.856)};
\addplot[ybar, bar width=0.92, bar shift=0pt, fill=sbar, draw=none] coordinates {(1,1.48)};
\addplot[ybar, bar width=0.92, bar shift=0pt, fill=lbar, draw=none] coordinates {(2,1.2)};
\addplot[only marks, mark=*, mark size=2.3pt, wtpt, mark options={draw opacity=0, fill opacity=0.75}] coordinates {(-0.01,3.27)(0.01,1.46)(0.27,1.15)(-0.27,0.82)(0.04,0.82)(0.27,0.81)(0.29,0.52)(0.14,0.62)(-0.17,0.45)(-0.1,0.31)(0.04,0.26)(0.15,0.34)(-0.27,0.25)};
\addplot[only marks, mark=*, mark size=2.3pt, spt, mark options={draw opacity=0, fill opacity=0.75}] coordinates {(1.02,3.58)(0.76,2.66)(0.72,2.38)(1.01,1.39)(1.13,1.32)(0.72,0.82)(1.01,0.67)(1.27,0.82)(1.23,0.82)(0.9,0.40)};
\addplot[only marks, mark=*, mark size=2.3pt, lpt, mark options={draw opacity=0, fill opacity=0.75}] coordinates {(2.24,2.6)(2.07,2.29)(1.83,1.35)(1.83,1.08)(1.72,0.94)(1.91,0.87)(1.78,0.62)(2.21,0.83)(2.29,0.23)};
\addplot[black, line width=0.9pt] coordinates {(0,0.06)(0,1.67)};
\addplot[black, line width=0.9pt] coordinates {(-0.12,1.67)(0.12,1.67)};
\addplot[black, line width=0.9pt] coordinates {(-0.12,0.06)(0.12,0.06)};
\addplot[serr, line width=0.9pt] coordinates {(1,0.45)(1,2.52)};
\addplot[serr, line width=0.9pt] coordinates {(0.88,2.52)(1.12,2.52)};
\addplot[serr, line width=0.9pt] coordinates {(0.88,0.45)(1.12,0.45)};
\addplot[lerr, line width=0.9pt] coordinates {(2,0.43)(2,1.97)};
\addplot[lerr, line width=0.9pt] coordinates {(1.88,1.97)(2.12,1.97)};
\addplot[lerr, line width=0.9pt] coordinates {(1.88,0.43)(2.12,0.43)};
\addplot[sig, line width=0.9pt] coordinates {(-0.04,4.19)(1.95,4.19)};
\addplot[sig, line width=0.9pt] coordinates {(-0.04,3.65)(0.95,3.65)};
\node[font=\fs{10}, text=black!75] at (axis cs:0.91,4.37) {n.s.};
\node[font=\fs{10}, text=black!75] at (axis cs:0.51,3.84) {n.s.};
\end{axis}
% ================= C3 =================
\begin{axis}[ggc, at={(501pt,65.3pt)}, width=153pt, height=132pt,
  xmin=-0.59, xmax=2.57, ymin=-0.42, ymax=8.81,
  ytick={0,4,8}, yticklabels={0,{4.0\,{\fs{8}×}\,10\textsuperscript{6}},{8.0\,{\fs{8}×}\,10\textsuperscript{6}}},
  ylabel={\textit{σ}\textsubscript{\textit{F}} (photons/µm\textsuperscript{2})}, ylabb={-0.377}{0.54}]
\addplot[ybar, bar width=0.9, bar shift=0pt, fill=wtbar, draw=none] coordinates {(0,4.89)};
\addplot[ybar, bar width=0.9, bar shift=0pt, fill=sbar, draw=none] coordinates {(1,5.13)};
\addplot[ybar, bar width=0.9, bar shift=0pt, fill=lbar, draw=none] coordinates {(2,2.47)};
\addplot[only marks, mark=*, mark size=2.3pt, wtpt, mark options={draw opacity=0, fill opacity=0.75}] coordinates {(0.01,6.02)(0.21,5.29)(0.04,5.13)(0.09,4.7)(-0.23,4.47)(-0.03,3.81)};
\addplot[only marks, mark=*, mark size=2.3pt, spt, mark options={draw opacity=0, fill opacity=0.75}] coordinates {(0.82,8.59)(1.04,6.0)(1.23,5.81)(1.26,3.67)(0.91,1.6)};
\addplot[only marks, mark=*, mark size=2.3pt, lpt, mark options={draw opacity=0, fill opacity=0.75}] coordinates {(2.23,5.9)(1.82,3.86)(1.77,1.62)(2.1,0.59)(2.23,0.31)};
\addplot[black, line width=0.9pt] coordinates {(0,4.16)(0,5.65)};
\addplot[black, line width=0.9pt] coordinates {(-0.14,5.65)(0.14,5.65)};
\addplot[black, line width=0.9pt] coordinates {(-0.14,4.16)(0.14,4.16)};
\addplot[serr, line width=0.9pt] coordinates {(1,2.54)(1,7.76)};
\addplot[serr, line width=0.9pt] coordinates {(0.86,7.76)(1.14,7.76)};
\addplot[serr, line width=0.9pt] coordinates {(0.86,2.54)(1.14,2.54)};
\addplot[lerr, line width=0.9pt] coordinates {(2,0.12)(2,4.85)};
\addplot[lerr, line width=0.9pt] coordinates {(1.86,4.85)(2.14,4.85)};
\addplot[lerr, line width=0.9pt] coordinates {(1.86,0.12)(2.14,0.12)};
\addplot[sig, line width=0.9pt] coordinates {(0.02,10.1)(1.75,10.1)};
\addplot[sig, line width=0.9pt] coordinates {(0.02,8.79)(0.88,8.79)};
\node[font=\fs{10}, text=black!75] at (axis cs:0.94,10.6) {n.s.};
\node[font=\fs{10}, text=black!75] at (axis cs:0.52,9.28) {n.s.};
\end{axis}
% panel letters
\node[font=\bfseries\fs{13}] at (7pt,791pt) {A};
\node[font=\bfseries\fs{13}] at (7pt,466pt) {B};
\node[font=\bfseries\fs{13}] at (7pt,234pt) {C};
\end{tikzpicture}
\end{document}
